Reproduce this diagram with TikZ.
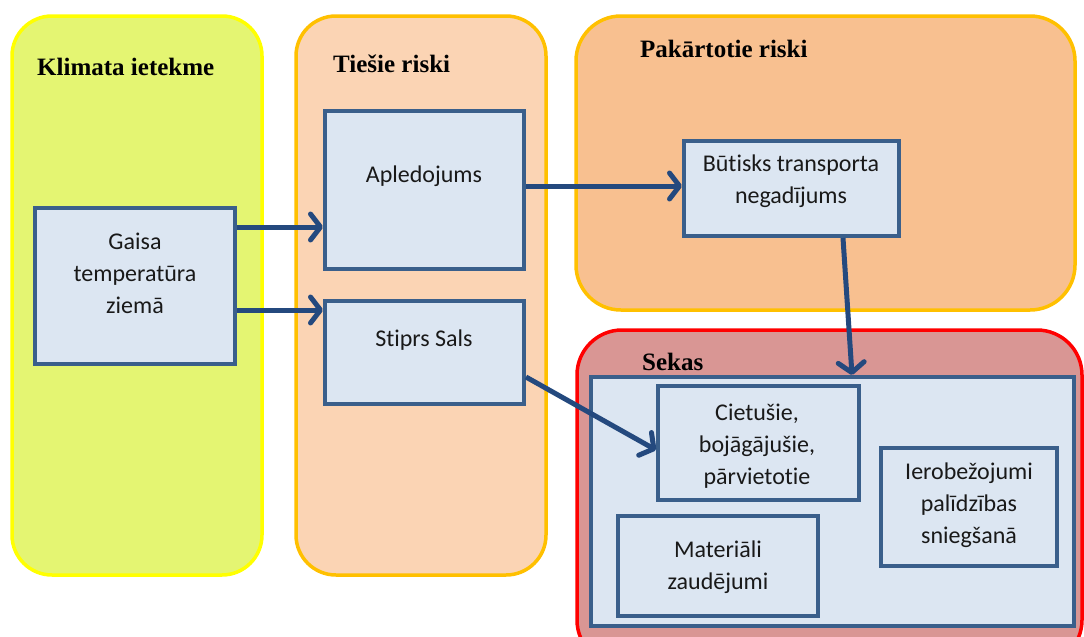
\documentclass[tikz,border=0pt]{standalone}
\usepackage{fontspec}
\setmainfont{Carlito}[Ligatures={NoCommon}]
\newfontfamily\titlefont{Liberation Serif}
\usetikzlibrary{arrows.meta,fit}
\definecolor{climfill}{HTML}{E4F572}
\definecolor{climline}{HTML}{FFFF00}
\definecolor{directfill}{HTML}{FBD4B4}
\definecolor{secfill}{HTML}{F8C090}
\definecolor{amber}{HTML}{FFC000}
\definecolor{consfill}{HTML}{D99694}
\definecolor{consline}{HTML}{FF0000}
\definecolor{boxfill}{HTML}{DCE6F2}
\definecolor{boxline}{HTML}{3A5F8B}
\definecolor{arrowblue}{HTML}{24497E}
\tikzset{
  panel/.style={draw, line width=3.5pt, rounded corners=40pt, inner sep=0pt},
  box/.style={draw=boxline, fill=boxfill, line width=4pt, inner sep=0pt},
  txt/.style={font=\fontsize{24}{32}\selectfont, align=center, text=black!90, inner sep=0pt},
  ttl/.style={font=\titlefont\bfseries\fontsize{25}{30}\selectfont, anchor=west, inner sep=0pt},
  arr/.style={draw=arrowblue, line width=5pt, -{Straight Barb[length=10pt,width=26pt,line cap=round,line join=round]}}
}
\begin{document}
\begin{tikzpicture}[x=1pt,y=-1pt]
\useasboundingbox (0,0) rectangle (1084,637);
\fill[white] (0,0) rectangle (1084,637);

% column panels
\node[panel, draw=climline, fill=climfill, fit={(12,16) (262,575)}] (clim) {};
\node[panel, draw=amber, fill=directfill, fit={(296,16) (546,575)}] (direct) {};
\node[panel, draw=amber, fill=secfill, rounded corners=45pt, fit={(576,16) (1075,310)}] (second) {};
\node[panel, draw=consline, fill=consfill, rounded corners=45pt, fit={(577,330) (1082,665)}] (cons) {};

% panel titles
\node[ttl] (tclim) at (37,67) {Klimata ietekme};
\node[ttl] (tdirect) at (333,64) {Tiešie riski};
\node[ttl] (tsecond) at (640,49) {Pakārtotie riski};
\node[ttl] (tcons) at (642,362) {Sekas};

% boxes
\node[box, fit={(35,208) (235,364)}] (gaisa) {};
\node[box, fit={(325,111) (524,269)}] (apl) {};
\node[box, fit={(325,301) (524,404)}] (sals) {};
\node[box, fit={(684,141) (899,236)}] (butisks) {};
\node[box, fit={(591,377) (1074,626)}] (sekas) {};
\node[box, fit={(658,386) (859,500)}] (ciet) {};
\node[box, fit={(618,516) (818,616)}] (mat) {};
\node[box, fit={(881,448) (1057,566)}] (ierob) {};

% box texts
\node[txt] (tgaisa) at (135,273) {Gaisa\\temperatūra\\ziemā};
\node[txt] (tapl) at (424,176) {Apledojums};
\node[txt] (tsals) at (424,340) {Stiprs Sals};
\node[txt] (tbut) at (791,181) {Būtisks transporta\\negadījums};
\node[txt] (tciet) at (757,446) {Cietušie,\\bojāgājušie,\\pārvietotie};
\node[txt] (tmat) at (718,567) {Materiāli\\zaudējumi};
\node[txt] (tierob) at (969,505) {Ierobežojumi\\palīdzības\\sniegšanā};

% connectors
\draw[arr] (gaisa.east |- 0,227) -- (apl.west |- 0,227);
\draw[arr] (gaisa.east |- 0,310) -- (sals.west |- 0,310);
\draw[arr] (apl.east |- 0,186) -- (butisks.west |- 0,186);
\draw[arr] (butisks.south -| 843,0) -- (sekas.north -| 852,0);
\draw[arr] (sals.east |- 0,377) -- (ciet.west |- 0,450);
\end{tikzpicture}
\end{document}
